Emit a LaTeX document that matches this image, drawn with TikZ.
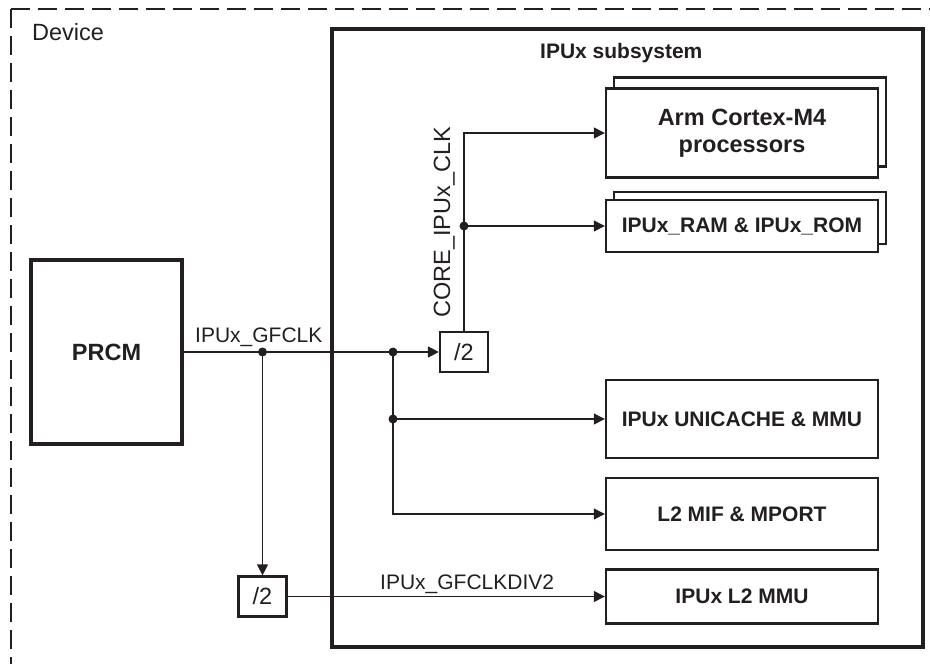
\documentclass[tikz,border=0pt]{standalone}
\usepackage{fontspec}
\setmainfont{Liberation Sans}
\usetikzlibrary{arrows.meta,shadows}

\definecolor{ink}{HTML}{231F20}
\newcommand{\smallfnt}{\fontsize{21}{25}\selectfont}
\newcommand{\bigfnt}{\fontsize{23.5}{27}\selectfont}

\tikzset{
  blk/.style={draw=ink, line width=2.4pt, fill=white, minimum width=272pt,
    inner sep=0pt, align=center, text=ink, font=\smallfnt\bfseries},
  stack/.style={blk, copy shadow={shadow xshift=8pt, shadow yshift=#1}},
  divbox/.style={draw=ink, line width=2.2pt, fill=white, minimum width=48pt,
    minimum height=40pt, inner sep=0pt, text=ink, font=\bigfnt},
  sig/.style={draw=ink, line width=1.3pt, -{Triangle[length=11pt,width=11pt]}},
  lbl/.style={inner sep=0pt, text=ink, font=\smallfnt},
  jdot/.style={circle, fill=ink, inner sep=0pt, minimum size=9pt},
}

\begin{document}
\begin{tikzpicture}[x=1pt, y=-1pt]
    \useasboundingbox (0, 0) rectangle (930, 664);

    % Device frame (dashed, runs off the page)
    \draw[ink, line width=2.8pt, dash pattern=on 19pt off 8pt] (11, 9) -- (930, 9);
    \draw[ink, line width=2.8pt, dash pattern=on 19pt off 8pt] (11, 9) -- (11, 664);
    \node[lbl, font=\bigfnt, anchor=west] (devlbl) at (32, 32.5) {Device};

    % IPUx subsystem box
    \node[draw=ink, line width=3.6pt, minimum width=591pt, minimum height=618pt] (ipu) at (627.5, 338) {};
    \node[lbl, font=\smallfnt\bfseries, anchor=base west] (ipulbl) at (540, 58) {IPUx subsystem};

    % PRCM
    \node[blk, line width=3.6pt, minimum width=151pt, minimum height=184pt, font=\bigfnt\bfseries] (prcm) at (106.5, 352) {PRCM};

    % Dividers
    \node[divbox] (div1) at (464, 352) {/2};
    \node[divbox] (div2) at (262.5, 596.5) {/2};

    % Blocks inside the subsystem
    \node[stack=11pt, minimum height=89pt, font=\bigfnt\bfseries] (arm) at (742, 133) {Arm Cortex-M4\\processors};
    \node[stack=8pt, minimum height=52pt] (ram) at (742, 226) {IPUx\_RAM \& IPUx\_ROM};
    \node[blk, minimum height=78pt] (unicache) at (742, 419) {IPUx UNICACHE \& MMU};
    \node[blk, minimum height=72pt] (mif) at (742, 514) {L2 MIF \& MPORT};
    \node[blk, minimum height=54pt] (mmu) at (742, 596.5) {IPUx L2 MMU};

    % Junction dots
    \node[jdot] (d1) at (262.5, 352) {};
    \node[jdot] (d2) at (393, 352) {};
    \node[jdot] (d3) at (464, 226) {};
    \node[jdot] (d4) at (393, 419) {};

    % Clock lines
    \draw[sig] (prcm.east) -- (div1.west);
    \draw[sig] (d1.center) -- (div2.north);
    \draw[sig] (div2.east) -- (mmu.west);
    \draw[sig] (div1.north) |- (arm.west);
    \draw[sig] (d3.center) -- (ram.west);
    \draw[sig] (d2.center) |- (mif.west);
    \draw[sig] (d4.center) -- (unicache.west);

    % Signal names
    \node[lbl, anchor=base west] (gfclk) at (195, 342) {IPUx\_GFCLK};
    \node[lbl, anchor=base west] (gfclkdiv) at (380, 589) {IPUx\_GFCLKDIV2};
    \node[lbl, font=\bigfnt, rotate=90, anchor=base west] (coreclk) at (450, 318) {CORE\_IPUx\_CLK};
\end{tikzpicture}
\end{document}
